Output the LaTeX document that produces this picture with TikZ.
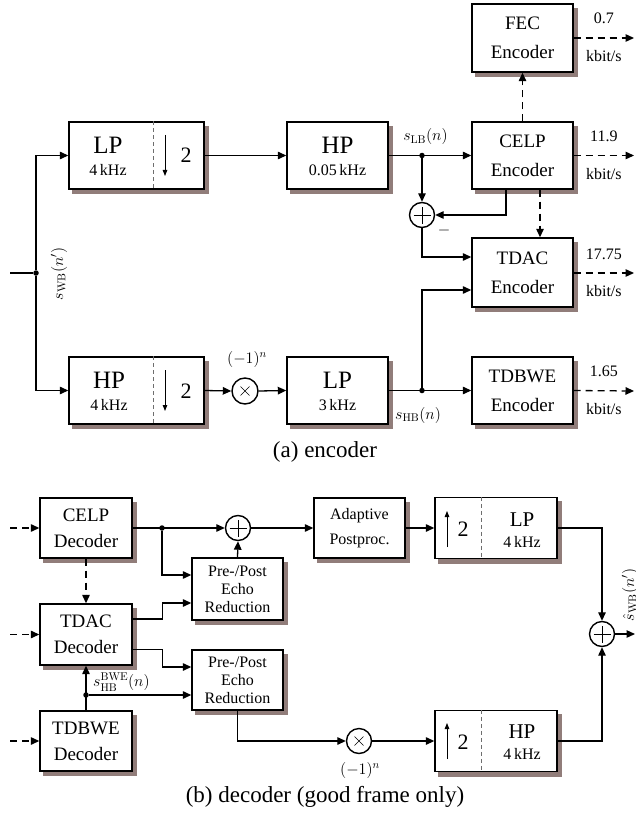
\RequirePackage{fix-cm}
\documentclass[tikz,border=0pt]{standalone}
\usepackage[no-math]{fontspec}
\setmainfont{Liberation Serif}
\usepackage{amsmath}
\usetikzlibrary{arrows.meta, positioning, calc, backgrounds}
\definecolor{ShadowGray}{RGB}{145,125,122}
\definecolor{DividerGray}{RGB}{110,110,110}

\begin{document}
\begin{tikzpicture}[x=1pt, y=-1pt,
    blk/.style={draw, line width=1.4pt, fill=white, inner sep=0pt, align=center},
    enc/.style={blk, minimum width=101pt, minimum height=67pt, font=\fontsize{19}{29}\selectfont},
    dec/.style={blk, minimum width=92pt, minimum height=60pt, font=\fontsize{19}{26}\selectfont},
    ppe/.style={blk, minimum width=91pt, minimum height=62pt, font=\fontsize{16}{18}\selectfont},
    sumc/.style={circle, draw, line width=1.4pt, fill=white, minimum size=25pt, inner sep=0pt,
                 path picture={\draw[line width=0.6pt] (path picture bounding box.center)
                   +(-8.5pt,0pt) -- +(8.5pt,0pt) +(0pt,-8.5pt) -- +(0pt,8.5pt);}},
    mulc/.style={circle, draw, line width=1.4pt, fill=white, minimum size=25pt, inner sep=0pt,
                 path picture={\draw[line width=0.6pt] (path picture bounding box.center)
                   +(-4.5pt,-4.5pt) -- +(4.5pt,4.5pt) +(-4.5pt,4.5pt) -- +(4.5pt,-4.5pt);}},
    dot/.style={circle, fill, inner sep=0pt, minimum size=5.5pt},
    arr/.style={-{Triangle[length=8.5pt,width=7.5pt]}, line width=1.3pt},
    darr/.style={arr, dash pattern=on 7pt off 5pt},
    ln/.style={line width=1.3pt},
    divl/.style={DividerGray, line width=0.7pt, dash pattern=on 4pt off 3pt},
    updn/.style={-{Triangle[length=6pt,width=4.5pt]}, line width=0.9pt},
    big/.style={font=\fontsize{25}{25}\selectfont, inner sep=0pt},
    bigd/.style={font=\fontsize{21}{21}\selectfont, inner sep=0pt},
    two/.style={font=\fontsize{22}{22}\selectfont, inner sep=0pt},
    lbl/.style={font=\fontsize{16}{18}\selectfont, inner sep=0pt},
    captxt/.style={font=\fontsize{23}{23}\selectfont, inner sep=0pt}
  ]
  \useasboundingbox (0,0) rectangle (636,813);

  % encoder
  \node[enc, minimum width=135pt] (lpdn) at (136.5,155.5) {};
  \draw[divl] ([xshift=16.5pt]lpdn.north) -- ([xshift=16.5pt]lpdn.south);
  \node[big] (lpdnA) at (108,145) {LP};
  \node[lbl] (lpdnB) at (108,170) {4\,kHz};
  \draw[updn] (165,135) -- (165,176);
  \node[two] (lpdnC) at (186,155) {2};

  \node[enc, minimum width=135pt] (hpdn) at (136.5,390.5) {};
  \draw[divl] ([xshift=16.5pt]hpdn.north) -- ([xshift=16.5pt]hpdn.south);
  \node[big] (hpdnA) at (109,380) {HP};
  \node[lbl] (hpdnB) at (109,405) {4\,kHz};
  \draw[updn] (165,370) -- (165,411);
  \node[two] (hpdnC) at (186,391) {2};

  \node[enc] (hpf) at (337.5,155.5) {};
  \node[big] (hpfA) at (337.5,145) {HP};
  \node[lbl] (hpfB) at (337.5,170) {0.05\,kHz};
  \node[enc] (lpf) at (337.5,390.5) {};
  \node[big] (lpfA) at (337.5,380) {LP};
  \node[lbl] (lpfB) at (337.5,405) {3\,kHz};

  \node[enc, minimum height=68pt] (fec) at (522.5,38) {FEC\\Encoder};
  \node[enc] (celp) at (522.5,155.5) {CELP\\Encoder};
  \node[enc, minimum height=69pt] (tdac) at (522.5,272.5) {TDAC\\Encoder};
  \node[enc] (tdbwe) at (522.5,390.5) {TDBWE\\Encoder};

  \node[sumc] (suma) at (422,215) {};
  \node[mulc, minimum size=26pt] (mula) at (245,391) {};
  \node[dot] (swbdot) at (36,273) {};
  \node[dot] (lbtap) at (422,155.5) {};
  \node[dot] (hbtap) at (422,390.5) {};
  \coordinate (swbin) at (10,273);

  \draw[ln] (swbin) -- (swbdot);
  \draw[arr] (swbdot) |- (lpdn.west);
  \draw[arr] (swbdot) |- (hpdn.west);
  \draw[arr] (lpdn.east) -- (hpf.west);
  \draw[arr] (hpf.east) -- (celp.west);
  \draw[arr] (lbtap) -- (suma.north);
  \draw[arr] ([xshift=-16.5pt]celp.south) |- (suma.east);
  \draw[arr] (suma.south) |- ([yshift=15.5pt]tdac.west);
  \draw[arr] (hbtap) |- ([yshift=-17.5pt]tdac.west);
  \draw[darr] (celp.north) -- (fec.south);
  \draw[darr] ([xshift=17.5pt]celp.south) -- ([xshift=17.5pt]tdac.north);
  \draw[arr] (hpdn.east) -- (mula.west);
  \draw[arr] (mula.east) -- (lpf.west);
  \draw[arr] (lpf.east) -- (tdbwe.west);

  \coordinate (fecout) at (634,38);
  \coordinate (celpout) at (634,155.5);
  \coordinate (tdacout) at (634,273);
  \coordinate (tdbweout) at (634,391);
  \draw[darr] (fec.east) -- (fecout)
    node[lbl, midway, above=14pt] {0.7} node[lbl, midway, below=12pt] {kbit/s};
  \draw[darr] (celp.east) -- (celpout)
    node[lbl, midway, above=13pt] {11.9} node[lbl, midway, below=12pt] {kbit/s};
  \draw[darr] ([yshift=-0.5pt]tdac.east) -- (tdacout)
    node[lbl, midway, above=13pt] {17.75} node[lbl, midway, below=12pt] {kbit/s};
  \draw[darr] (tdbwe.east) -- (tdbweout)
    node[lbl, midway, above=13pt] {1.65} node[lbl, midway, below=12pt] {kbit/s};

  \node[lbl] (slb) at (425.5,137) {$s_{\mathrm{LB}}(n)$};
  \node[lbl] (shb) at (418,415) {$s_{\mathrm{HB}}(n)$};
  \node[lbl] (mulalbl) at (247,359) {$(-1)^n$};
  \node[lbl] (minus) at (444,230) {$-$};
  \node[lbl, rotate=90] (swb) at (59,274) {$s_{\mathrm{WB}}(n')$};
  \node[captxt] (capa) at (325,452) {(a) encoder};

  % decoder
  \node[dec] (celpd) at (86,528) {CELP\\Decoder};
  \node[dec, minimum height=61pt] (tdacd) at (86,634.5) {TDAC\\Decoder};
  \node[dec] (tdbwed) at (86,741) {TDBWE\\Decoder};
  \node[ppe] (ppe1) at (237.5,589) {Pre-/Post\\Echo\\Reduction};
  \node[ppe, minimum height=60pt] (ppe2) at (237.5,680) {Pre-/Post\\Echo\\Reduction};
  \node[ppe, minimum height=60pt, font=\fontsize{16}{25}\selectfont] (post) at (359.5,528) {Adaptive\\Postproc.};

  \node[dec, minimum width=122pt, minimum height=61pt] (lpu) at (496,528) {};
  \draw[divl] ([xshift=-15pt]lpu.north) -- ([xshift=-15pt]lpu.south);
  \draw[updn] (447,547) -- (447,511);
  \node[two] (lpuC) at (463,529) {2};
  \node[bigd] (lpuA) at (522,520) {LP};
  \node[lbl] (lpuB) at (522,542) {4\,kHz};

  \node[dec, minimum width=122pt, minimum height=61pt] (hpu) at (496,741) {};
  \draw[divl] ([xshift=-15pt]hpu.north) -- ([xshift=-15pt]hpu.south);
  \draw[updn] (447,759) -- (447,723);
  \node[two] (hpuC) at (463,742) {2};
  \node[bigd] (hpuA) at (522,732) {HP};
  \node[lbl] (hpuB) at (522,754) {4\,kHz};

  \node[sumc] (sumd) at (238,528) {};
  \node[mulc] (muld) at (359,741) {};
  \node[sumc] (sumo) at (602,634) {};
  \node[dot] (celptap) at (162,528) {};
  \node[dot] (bwetap) at (86,695) {};
  \coordinate (celpin) at (10,528);
  \coordinate (tdacin) at (10,634.5);
  \coordinate (tdbwein) at (10,741);
  \coordinate (swbout) at (635,634);

  \draw[darr] (celpin) -- (celpd.west);
  \draw[darr] (tdacin) -- (tdacd.west);
  \draw[darr] (tdbwein) -- (tdbwed.west);
  \draw[darr] (celpd.south) -- (tdacd.north);
  \draw[arr] (celpd.east) -- (sumd.west);
  \draw[arr] (celptap) |- ([yshift=14pt]ppe1.west);
  \draw[arr] (ppe1.north) -- (sumd.south);
  \draw[arr] ([yshift=15.5pt]tdacd.east) -- ++(30,0) |- ([yshift=-14pt]ppe1.west);
  \draw[arr] ([yshift=-15pt]tdacd.east) -- ++(30,0) |- ([yshift=13pt]ppe2.west);
  \draw[arr] (tdbwed.north) -- (tdacd.south);
  \draw[arr] (bwetap) -- (bwetap -| ppe2.west);
  \draw[arr] (sumd.east) -- (post.west);
  \draw[arr] (post.east) -- (lpu.west);
  \draw[arr] (ppe2.south) |- (muld.west);
  \draw[arr] (muld.east) -- (hpu.west);
  \draw[arr] (lpu.east) -| (sumo.north);
  \draw[arr] (hpu.east) -| (sumo.south);
  \draw[arr] (sumo.east) -- (swbout);

  \node[lbl, anchor=west] (shbbwe) at (93,682) {$s_{\mathrm{HB}}^{\mathrm{BWE}}(n)$};
  \node[lbl] (muldlbl) at (360,770) {$(-1)^n$};
  \node[lbl, rotate=90] (swbhat) at (630,595) {$\hat{s}_{\mathrm{WB}}(n')$};
  \node[captxt] (capb) at (325,797) {(b) decoder (good frame only)};

  % box shadows
  \begin{scope}[on background layer]
    \foreach \bx in {lpdn,hpdn,hpf,lpf,fec,celp,tdac,tdbwe,
                     celpd,tdacd,tdbwed,ppe1,ppe2,post,lpu,hpu}
      \fill[ShadowGray] ($(\bx.south west)+(4pt,-4.5pt)$)
        rectangle ($(\bx.north east)+(4pt,-4.5pt)$);
  \end{scope}
\end{tikzpicture}
\end{document}
